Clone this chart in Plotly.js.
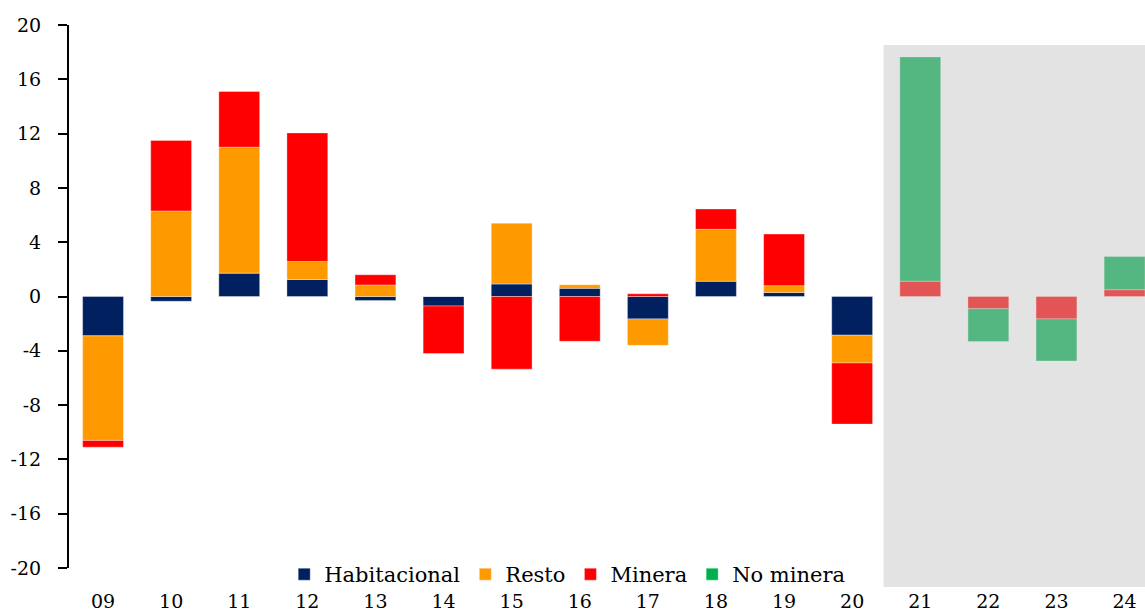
<!DOCTYPE html>
<html>
<head>
<meta charset="utf-8">
<script src="https://cdn.plot.ly/plotly-3.0.1.min.js"></script>
<style>html,body{margin:0;padding:0;background:#fff;}#chart{width:1145px;height:615px;}</style>
</head>
<body>
<div id="chart"></div>
<script>
const years = ['09','10','11','12','13','14','15','16','17','18','19','20','21','22','23','24'];
const habitacional = [-2.9,-0.35,1.72,1.25,-0.3,-0.7,0.92,0.6,-1.65,1.12,0.3,-2.85,null,null,null,null];
const resto = [-7.7,6.3,9.28,1.33,0.85,0,4.48,0.26,-1.95,3.83,0.5,-2.05,null,null,null,null];
const minera = [-0.5,5.2,4.1,9.47,0.75,-3.5,-5.35,-3.3,0.2,1.5,3.8,-4.5,1.13,-0.9,-1.65,0.5];
const noMinera = [null,null,null,null,null,null,null,null,null,null,null,null,16.52,-2.42,-3.1,2.45];
const yTicks = [-20,-16,-12,-8,-4,0,4,8,12,16,20];
const yTickText = ['-20','-16','-12','-8','-4','0','4','8','12','16','20'];

const FONT = "'DejaVu Serif', serif";
const edge = {color:'rgba(255,255,255,0.35)', width:1};
function bar(name, y, color){
  return {type:'bar', name:name, x:years, y:y, marker:{color:color, line:edge}, hoverinfo:'x+y+name'};
}
const data = [
  bar('Habitacional', habitacional, '#002060'),
  bar('Resto', resto, '#FF9900'),
  bar('Minera', minera, '#FF0000'),
  bar('No minera', noMinera, '#00B050')
];
const boundaries = years.map((_, i) => i - 0.5);

const layout = {
  width:1145, height:615,
  margin:{l:69, r:0, t:25, b:47},
  paper_bgcolor:'#ffffff', plot_bgcolor:'rgba(0,0,0,0)',
  barmode:'relative', bargap:0.4,
  font:{family:FONT, size:20, color:'#000'},
  showlegend:true,
  legend:{orientation:'h', x:0.2, xanchor:'left', y:-0.012, yanchor:'middle',
          bgcolor:'rgba(0,0,0,0)', font:{family:FONT, size:21, color:'#000'}, traceorder:'normal', itemclick:false},
  xaxis:{type:'category', categoryorder:'array', categoryarray:years, range:[-0.5,15.3],
         showline:false, zeroline:false, showgrid:false, ticks:'', ticklabelstandoff:20,
         tickfont:{family:FONT, size:19, color:'#000'}, fixedrange:true},
  xaxis2:{overlaying:'x', anchor:'free', position:0.5, range:[-0.5,15.3], type:'linear',
          tickvals:boundaries, ticks:'outside', ticklen:9, tickwidth:2, tickcolor:'#000',
          showticklabels:false, showline:true, linecolor:'#000', linewidth:2,
          zeroline:false, showgrid:false, fixedrange:true},
  yaxis:{range:[-20,20], tickvals:yTicks, ticktext:yTickText, ticks:'outside', ticklen:9, tickwidth:2, tickcolor:'#000',
         showline:true, linecolor:'#000', linewidth:2, zeroline:false, showgrid:false,
         ticklabelstandoff:13, tickfont:{family:FONT, size:19, color:'#000'}, fixedrange:true},
  shapes:[{type:'rect', layer:'above', xref:'paper', yref:'paper',
           x0:0.757, x1:1.0, y0:-0.035, y1:0.963,
           fillcolor:'rgba(191,191,191,0.44)', line:{width:0}}]
};
Plotly.newPlot('chart', data, layout, {displayModeBar:false, staticPlot:true});
</script>
</body>
</html>
